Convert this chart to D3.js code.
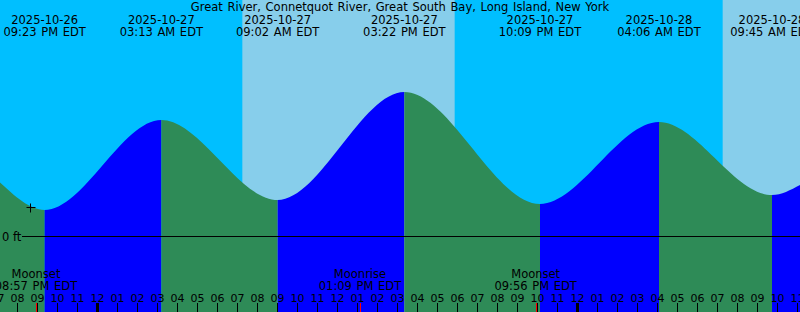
<!DOCTYPE html>
<html>
<head>
<meta charset="utf-8">
<script src="https://cdn.jsdelivr.net/npm/d3@7"></script>
<style>
  body { margin: 0; background: #fff; }
  svg { display: block; }
  text { font-family: "DejaVu Sans", sans-serif; font-size: 11.5px; fill: #000; word-spacing: 1px; }
</style>
</head>
<body>
<div id="chart"></div>
<script>
const title = "Great River, Connetquot River, Great South Bay, Long Island, New York";

// High / low tides (local time, ft)
const extremeTimes = [
  "2025-10-26 21:23", "2025-10-27 03:13", "2025-10-27 09:02", "2025-10-27 15:22",
  "2025-10-27 22:09", "2025-10-28 04:06", "2025-10-28 09:45"
];
const extremeHeights = [0.13, 0.58, 0.18, 0.72, 0.16, 0.57, 0.205];
const extremeKinds = ["L", "H", "L", "H", "L", "H", "L"];
const extremeDates = ["2025-10-26", "2025-10-27", "2025-10-27", "2025-10-27", "2025-10-27", "2025-10-28", "2025-10-28"];
const extremeLabels = ["09:23 PM EDT", "03:13 AM EDT", "09:02 AM EDT", "03:22 PM EDT", "10:09 PM EDT", "04:06 AM EDT", "09:45 AM EDT"];

// Water level at the chart edges
const edgeTimes = ["2025-10-26 19:09", "2025-10-28 11:09"];
const edgeHeights = [0.267, 0.255];

// Daylight
const sunrises = ["2025-10-27 07:16", "2025-10-28 07:17"];
const sunsets = ["2025-10-27 17:53", "2025-10-28 17:52"];

// Moon
const moonTimes = ["2025-10-26 20:57", "2025-10-27 13:09", "2025-10-27 21:56"];
const moonEvents = ["Moonset", "Moonrise", "Moonset"];
const moonLabels = ["08:57 PM EDT", "01:09 PM EDT", "09:56 PM EDT"];

// Current time marker
const nowTime = "2025-10-26 20:39";
const nowHeight = 0.145;

const width = 800, height = 312;
const parse = d3.timeParse("%Y-%m-%d %H:%M");

const x = d3.scaleTime()
  .domain(edgeTimes.map(parse))
  .range([0, width]);
const y = d3.scaleLinear().domain([0, 1]).range([236, 36]);

const svg = d3.select("#chart").append("svg")
  .attr("width", width)
  .attr("height", height);

// Night background
svg.append("rect")
  .attr("width", width).attr("height", height)
  .attr("fill", "#00bfff");

// Day background
sunrises.forEach((s, i) => {
  const x0 = x(parse(s));
  const x1 = x(parse(sunsets[i]));
  svg.append("rect")
    .attr("x", x0).attr("y", 0)
    .attr("width", x1 - x0).attr("height", height)
    .attr("fill", "#87ceeb");
});

// Water area as clip
const tide = [
  { t: parse(edgeTimes[0]), h: edgeHeights[0] },
  ...extremeTimes.map((t, i) => ({ t: parse(t), h: extremeHeights[i] })),
  { t: parse(edgeTimes[1]), h: edgeHeights[1] }
];
const area = d3.area()
  .x(d => x(d.t))
  .y0(height)
  .y1(d => y(d.h))
  .curve(d3.curveMonotoneX);

svg.append("clipPath").attr("id", "water")
  .append("path").attr("d", area(tide));

// Rising = blue, falling = green
const bounds = tide.map(d => d.t);
const water = svg.append("g").attr("clip-path", "url(#water)");
for (let i = 0; i < bounds.length - 1; i++) {
  const falling = tide[i + 1].h < tide[i].h;
  water.append("rect")
    .attr("x", x(bounds[i]))
    .attr("y", 0)
    .attr("width", x(bounds[i + 1]) - x(bounds[i]))
    .attr("height", height)
    .attr("fill", falling ? "#2e8b57" : "#0000ff");
}

// 0 ft line
svg.append("line")
  .attr("x1", 22).attr("x2", width)
  .attr("y1", y(0) + 0.5).attr("y2", y(0) + 0.5)
  .attr("stroke", "#000");
svg.append("text")
  .attr("x", 2).attr("y", y(0) + 5)
  .style("word-spacing", "0px")
  .text("0 ft");

// Now marker
const nx = Math.round(x(parse(nowTime))) + 0.5;
const ny = Math.round(y(nowHeight)) + 0.5;
svg.append("path")
  .attr("d", `M${nx - 4},${ny}H${nx + 5}M${nx},${ny - 4}V${ny + 5}`)
  .attr("stroke", "#000");

// Title
svg.append("text")
  .attr("x", width / 2).attr("y", 11)
  .attr("text-anchor", "middle")
  .text(title);

// Tide labels
extremeTimes.forEach((t, i) => {
  const g = svg.append("g").attr("text-anchor", "middle");
  g.append("text").attr("x", x(parse(t))).attr("y", 24).text(extremeDates[i]);
  g.append("text").attr("x", x(parse(t))).attr("y", 36).text(extremeLabels[i]);
});

// Moon labels
moonTimes.forEach((t, i) => {
  const g = svg.append("g").attr("text-anchor", "middle");
  g.append("text").attr("x", x(parse(t))).attr("y", 278).text(moonEvents[i]);
  g.append("text").attr("x", x(parse(t))).attr("y", 290).text(moonLabels[i]);
});

// Hour axis
const hours = d3.timeHour.range(d3.timeHour.offset(x.domain()[0], -1), x.domain()[1]);
const axis = svg.append("g")
  .attr("transform", `translate(0,${height})`)
  .call(d3.axisTop(x)
    .tickValues(hours)
    .tickFormat(d3.timeFormat("%I"))
    .tickSize(9)
    .tickPadding(1));
axis.select(".domain").remove();
axis.selectAll("text")
  .attr("font-family", null).attr("font-size", null).attr("fill", null)
  .style("font-size", "11px");
axis.selectAll(".tick line")
  .attr("stroke", "#000")
  .attr("stroke-width", d => d.getHours() === 0 ? 3 : 1);

// Moon event ticks
moonTimes.forEach(t => {
  const mx = Math.round(x(parse(t))) + 0.5;
  svg.append("line")
    .attr("x1", mx).attr("x2", mx)
    .attr("y1", 303).attr("y2", height)
    .attr("stroke", "#ff0000");
});
</script>
</body>
</html>
